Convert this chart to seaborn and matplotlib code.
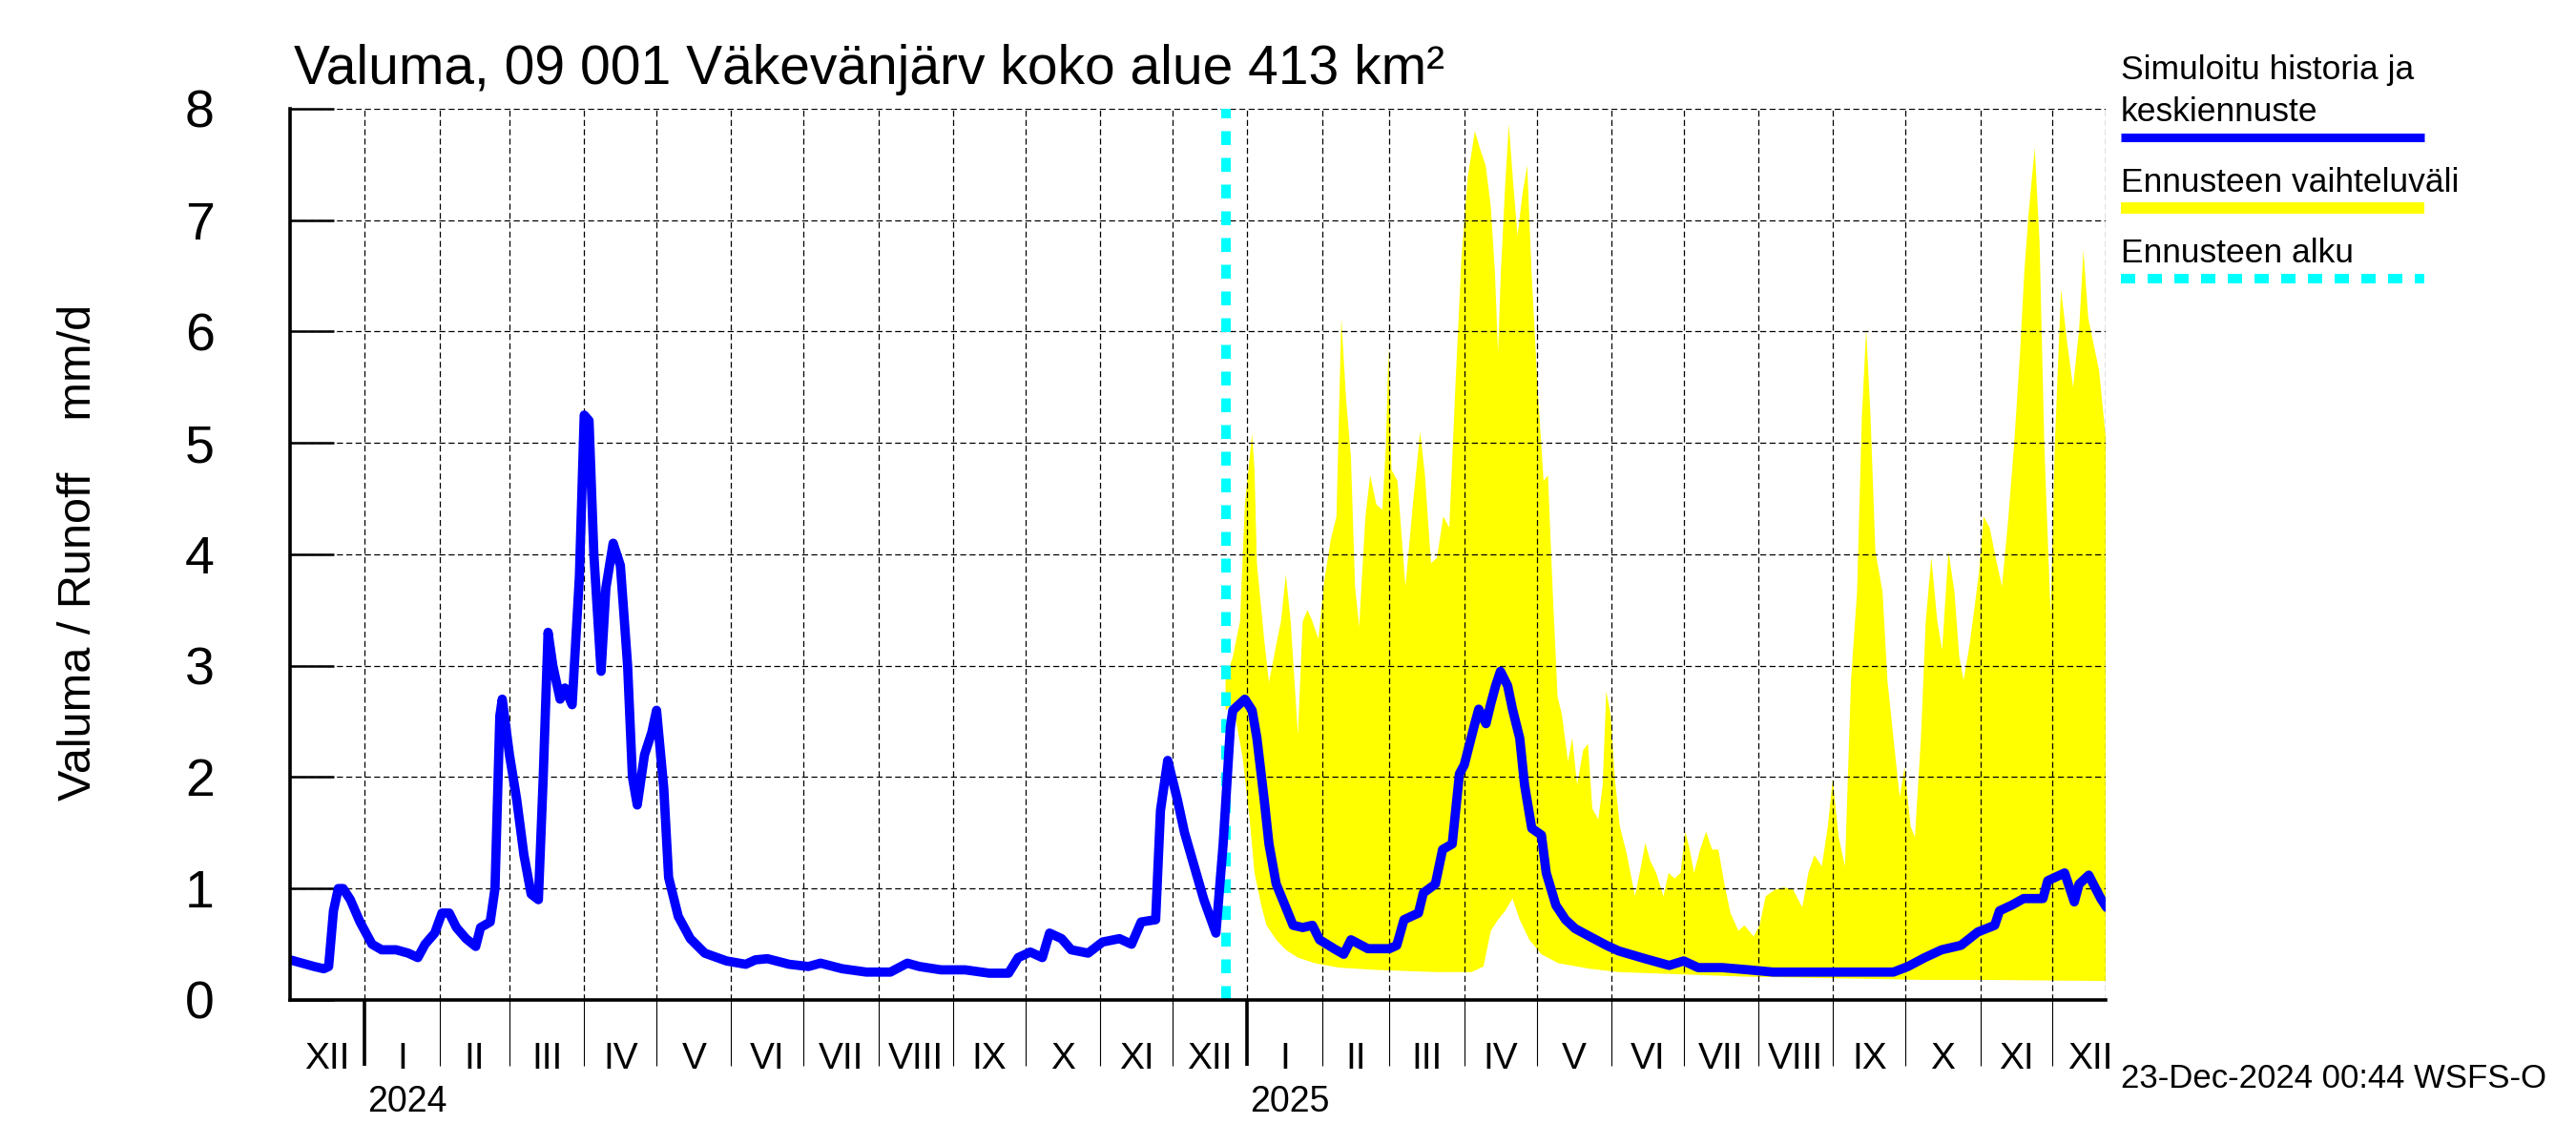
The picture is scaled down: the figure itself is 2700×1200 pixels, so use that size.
import numpy as np
import pandas as pd
import matplotlib
matplotlib.use('Agg')
import matplotlib.pyplot as plt
import matplotlib.dates as mdates
import matplotlib.ticker as mticker
import matplotlib.transforms as mtransforms
from matplotlib.lines import Line2D
import seaborn as sns

sns.set_theme(style="white")
plt.rcParams['font.family'] = ['Liberation Sans', 'DejaVu Sans']
plt.rcParams['text.color'] = 'black'
plt.rcParams['xtick.color'] = 'black'
plt.rcParams['ytick.color'] = 'black'
plt.rcParams['axes.edgecolor'] = 'black'
plt.rcParams['xtick.bottom'] = True
plt.rcParams['ytick.left'] = True

# time axis
START = pd.Timestamp('2023-12-01')
END = pd.Timestamp('2025-12-23')
FORECAST_START = pd.Timestamp('2024-12-23')

# simulated history + mean forecast, day = days since 2023-12-01, mm/d
sim_day = [0, 10, 14, 16, 18, 20, 22, 25, 29, 34, 38, 44, 49, 53, 56, 60, 63, 66, 69, 73,
           77, 79, 83, 85, 87, 88, 91, 94, 97, 100, 103, 105, 107, 109, 112, 114, 117, 120,
           122, 124, 126, 129, 131, 134, 137, 140, 142, 144, 147, 150, 152, 155, 157, 161,
           166, 172, 181, 189, 193, 198, 207, 215, 220, 229, 239, 249, 256, 261, 270, 280,
           290, 298, 302, 307, 312, 315, 320, 324, 331, 337, 344, 349, 353, 359, 361, 364,
           368, 371, 375, 379, 384, 387, 389, 390, 391, 396, 399, 401, 404, 406, 409, 413,
           416, 420, 424, 427, 433, 437, 440, 447, 456, 459, 462, 468, 470, 475, 478, 482,
           485, 487, 491, 493, 496, 498, 500, 502, 505, 507, 510, 512, 515, 519, 521, 525,
           529, 533, 539, 546, 551, 562, 572, 578, 584, 594, 605, 615, 640, 665, 671, 678,
           685, 693, 700, 707, 709, 714, 719, 727, 729, 736, 740, 742, 746, 751, 753.4]
sim_value = [0.36, 0.30, 0.28, 0.30, 0.80, 1.00, 1.00, 0.90, 0.70, 0.50, 0.45, 0.45, 0.42, 0.38,
             0.50, 0.60, 0.78, 0.78, 0.65, 0.55, 0.48, 0.65, 0.70, 1.00, 2.55, 2.70, 2.20, 1.80,
             1.30, 0.95, 0.90, 2.00, 3.30, 3.00, 2.70, 2.80, 2.65, 3.80, 5.25, 5.20, 4.00, 2.95,
             3.70, 4.10, 3.90, 3.00, 2.00, 1.75, 2.20, 2.40, 2.60, 1.90, 1.10, 0.75, 0.55, 0.42,
             0.35, 0.32, 0.36, 0.37, 0.32, 0.30, 0.33, 0.28, 0.25, 0.25, 0.33, 0.30, 0.27, 0.27,
             0.24, 0.24, 0.38, 0.43, 0.38, 0.60, 0.55, 0.45, 0.42, 0.52, 0.55, 0.50, 0.70, 0.72,
             1.70, 2.15, 1.80, 1.50, 1.20, 0.90, 0.60, 1.40, 2.10, 2.45, 2.60, 2.70, 2.60, 2.35,
             1.80, 1.40, 1.04, 0.83, 0.67, 0.65, 0.67, 0.54, 0.46, 0.41, 0.54, 0.46, 0.46, 0.49,
             0.72, 0.78, 0.96, 1.04, 1.35, 1.40, 2.03, 2.11, 2.45, 2.61, 2.48, 2.66, 2.82, 2.95,
             2.82, 2.61, 2.35, 1.93, 1.54, 1.48, 1.14, 0.85, 0.72, 0.64, 0.57, 0.49, 0.44, 0.37,
             0.31, 0.35, 0.29, 0.29, 0.27, 0.25, 0.25, 0.25, 0.30, 0.38, 0.45, 0.49, 0.61, 0.67,
             0.80, 0.85, 0.91, 0.91, 1.07, 1.14, 0.88, 1.04, 1.12, 0.91, 0.83]

# forecast range, upper edge
upper_day = [388, 391, 394, 396, 399, 400, 401, 404, 406, 409, 411, 413, 415, 418, 420, 422,
             424, 426.5, 429, 431.6, 434, 436, 438, 440, 441.7, 443.4, 446, 448, 450.5, 453,
             454.5, 455.6, 456.8, 459.3, 462.6, 465.7, 468.7, 470.7, 473.2, 475.7, 478.3,
             480.8, 483.3, 485.8, 488.4, 491.4, 493.4, 495.9, 498, 499.7, 501, 502.2, 504,
             505.5, 507.3, 509.1, 511.1, 513.1, 514.9, 517.4, 519.9, 521.7, 523.7, 525.7,
             527.5, 530, 531.8, 533.8, 536.3, 538.3, 540.1, 542.6, 544.4, 545.9, 547.7, 549.5,
             551.5, 554.5, 557.8, 560.3, 562.1, 564.1, 566.6, 569.6, 571.7, 574.2, 576.7,
             578.7, 580.5, 582.3, 584.8, 587.3, 589.8, 592.4, 594.9, 597.4, 600.7, 603.2, 607,
             609.5, 612, 615.8, 619.6, 623.4, 627.2, 629.7, 632.2, 635.3, 637.8, 639.8, 642.3,
             644.9, 647.4, 649.9, 651.9, 653.7, 655.5, 657.5, 660.5, 662.5, 665, 667.6, 669.6,
             672.1, 673.9, 676.4, 678.4, 680.7, 683.2, 685.2, 687.8, 690.3, 692.3, 694.1,
             696.6, 700.4, 702.4, 704.9, 707.4, 710, 712.5, 715, 717.5, 719.3, 721.1, 723.6,
             725.6, 727.6, 730.2, 731.9, 734.5, 737, 739.5, 742, 743.8, 745.8, 747.8, 750.3,
             753.4]
upper_value = [2.87, 3.08, 3.40, 4.45, 5.08, 4.76, 3.92, 3.24, 2.85, 3.19, 3.40, 3.82, 3.40, 2.38,
               3.40, 3.50, 3.40, 3.24, 3.77, 4.13, 4.34, 6.12, 5.39, 4.87, 3.71, 3.35, 4.34, 4.71,
               4.45, 4.40, 4.97, 5.86, 4.76, 4.66, 3.71, 4.45, 5.10, 4.71, 3.92, 3.97, 4.34, 4.24,
               5.50, 6.65, 7.38, 7.80, 7.65, 7.49, 7.12, 6.54, 5.81, 6.54, 7.33, 7.86, 7.33, 6.86,
               7.23, 7.49, 6.54, 5.50, 4.66, 4.71, 3.66, 2.72, 2.56, 2.14, 2.35, 1.93, 2.24, 2.30,
               1.72, 1.62, 1.93, 2.77, 2.56, 1.98, 1.56, 1.30, 0.93, 1.20, 1.41, 1.25, 1.14, 0.93,
               1.14, 1.09, 1.14, 1.51, 1.35, 1.14, 1.35, 1.51, 1.35, 1.35, 1.04, 0.78, 0.62, 0.67,
               0.57, 0.67, 0.93, 0.99, 1.01, 0.99, 0.83, 1.14, 1.30, 1.20, 1.56, 1.98, 1.46, 1.20,
               2.87, 3.66, 5.23, 6.02, 5.23, 4.03, 3.66, 2.87, 2.35, 1.82, 2.09, 1.56, 1.46, 2.35,
               3.40, 3.97, 3.40, 3.14, 4.03, 3.66, 3.08, 2.87, 3.19, 3.82, 4.34, 4.24, 3.97, 3.71,
               4.29, 4.97, 5.81, 6.54, 7.07, 7.65, 6.80, 4.97, 3.45, 4.97, 6.38, 5.91, 5.50, 6.02,
               6.73, 6.12, 5.91, 5.65, 4.97]

# forecast range, lower edge
lower_day = [388, 391, 395, 398, 400, 403, 405, 409, 413, 418, 425, 435, 450, 475, 490, 495,
             498, 501, 504, 507, 510, 514, 519, 526, 539, 551, 577, 602, 627, 652, 677, 702,
             753.4]
lower_value = [2.60, 2.66, 2.19, 1.62, 1.14, 0.83, 0.67, 0.54, 0.45, 0.38, 0.33, 0.29, 0.27,
               0.25, 0.25, 0.30, 0.62, 0.72, 0.80, 0.91, 0.72, 0.54, 0.41, 0.33, 0.28, 0.25,
               0.23, 0.21, 0.20, 0.19, 0.18, 0.18, 0.17]

roman = ['I', 'II', 'III', 'IV', 'V', 'VI', 'VII', 'VIII', 'IX', 'X', 'XI', 'XII']
title = 'Valuma, 09 001 Väkevänjärv koko alue 413 km²'
ylab = 'Valuma / Runoff    mm/d'
stamp = '23-Dec-2024 00:44 WSFS-O'
legend_labels = ['Simuloitu historia ja\nkeskiennuste', 'Ennusteen vaihteluväli', 'Ennusteen alku']

BLUE = '#0000ff'
YELLOW = '#ffff00'
CYAN = '#00ffff'


def to_dates(days):
    return START + pd.to_timedelta(np.asarray(days, dtype=float), unit='D')


sim = pd.DataFrame({'date': to_dates(sim_day), 'runoff': sim_value})
up_x = mdates.date2num(to_dates(upper_day))
lo_x = mdates.date2num(to_dates(lower_day))

fig = plt.figure(figsize=(27, 12), dpi=100)
ax = fig.add_axes([0.1126, 0.1267, 0.8174 - 0.1126, 0.905 - 0.1267])

# forecast band
ax.fill(np.concatenate([up_x, lo_x[::-1]]),
        np.concatenate([upper_value, lower_value[::-1]]),
        color=YELLOW, lw=0, zorder=1)

ax.axvline(FORECAST_START, color=CYAN, lw=7.2, linestyle=(0, (1.45, 1.35)),
           dash_capstyle='butt', zorder=2.6)

sns.lineplot(data=sim, x='date', y='runoff', color=BLUE, lw=7, ax=ax,
             sort=False, zorder=3)

ax.set_xlim(START, END)
ax.set_ylim(0, 8)
ax.set_xlabel('')
ax.set_ylabel('')

# grid: months (thin ticks) and years (thick ticks)
grid_kw = dict(color='black', lw=0.9, linestyle=(0, (5.0, 2.8)))
ax.set_axisbelow(False)
month_starts = pd.date_range('2024-01-01', '2025-12-01', freq='MS')
ax.xaxis.set_major_locator(mdates.YearLocator())
ax.xaxis.set_minor_locator(mticker.FixedLocator(mdates.date2num(month_starts)))
ax.grid(which='both', axis='x', **grid_kw)
ax.grid(which='major', axis='y', **grid_kw)
ax.axvline(END, **grid_kw)
ax.set_yticks(range(0, 9))

ax.tick_params(axis='y', left=True, direction='in', length=33, width=1.8, labelsize=40,
               pad=57, colors='black')
ax.tick_params(axis='x', which='major', bottom=True, direction='out', length=50, width=2.6,
               labelbottom=False, colors='black')
ax.tick_params(axis='x', which='minor', bottom=True, direction='out', length=50, width=0.8,
               labelbottom=False, colors='black')

for side in ['top', 'right']:
    ax.spines[side].set_visible(False)
for side in ['left', 'bottom']:
    ax.spines[side].set_color('black')
    ax.spines[side].set_linewidth(2.6)
    ax.spines[side].set_zorder(4)

# month and year labels
trans = mtransforms.blended_transform_factory(ax.transData, ax.transAxes)
for m in pd.date_range('2023-12-01', '2025-12-01', freq='MS'):
    mid = m + pd.Timedelta(days=m.days_in_month / 2)
    ax.text(mid, -0.077, roman[m.month - 1], transform=trans, ha='center',
            va='baseline', fontsize=28)
for yr in [2024, 2025]:
    ax.text(pd.Timestamp(f'{yr}-01-02'), -0.125, str(yr), transform=trans,
            ha='left', va='baseline', fontsize=27)

fig.text(0.114, 0.9267, title, fontsize=41, ha='left', va='baseline')
fig.text(0.0304, 0.5175, ylab, fontsize=35, rotation=90, ha='center', va='center')
fig.text(0.8233, 0.05, stamp, fontsize=25, ha='left', va='baseline')

# legend on the right
fig.text(0.8233, 0.9308, legend_labels[0].split('\n')[0], fontsize=25.5, va='baseline')
fig.text(0.8233, 0.8942, legend_labels[0].split('\n')[1], fontsize=25.5, va='baseline')
fig.add_artist(Line2D([0.8233, 0.9411], [0.8804, 0.8804], transform=fig.transFigure,
                      color=BLUE, lw=6.5, solid_capstyle='butt'))
fig.text(0.8233, 0.8325, legend_labels[1], fontsize=25.5, va='baseline')
fig.add_artist(Line2D([0.8233, 0.9411], [0.8183, 0.8183], transform=fig.transFigure,
                      color=YELLOW, lw=8.6, solid_capstyle='butt'))
fig.text(0.8233, 0.7708, legend_labels[2], fontsize=25.5, va='baseline')
fig.add_artist(Line2D([0.8233, 0.9411], [0.7567, 0.7567], transform=fig.transFigure,
                      color=CYAN, lw=7.2, linestyle=(0, (1.5, 1.3)), dash_capstyle='butt'))

fig.savefig('out.png', dpi=100, facecolor='white')
